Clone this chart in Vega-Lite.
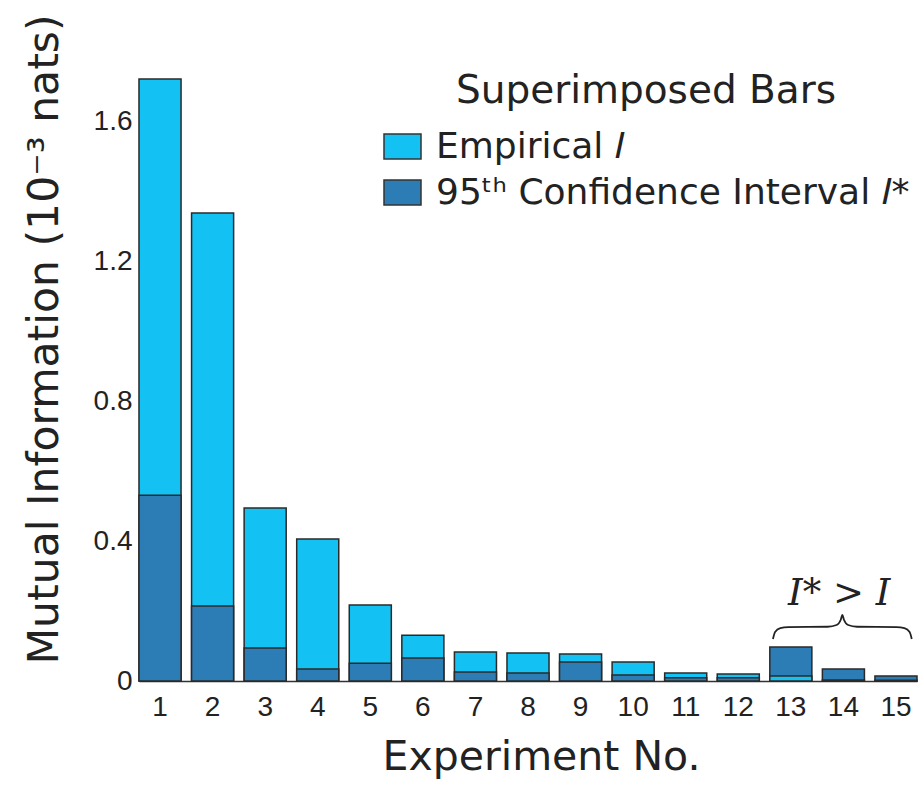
{
  "$schema": "https://vega.github.io/schema/vega-lite/v6.json",
  "autosize": {"type": "none"},
  "padding": {"left": 139, "top": 79, "right": 6, "bottom": 104},
  "width": 778,
  "height": 602,
  "background": "white",
  "config": {"view": {"stroke": null}},
  "resolve": {"scale": {"x": "independent"}, "axis": {"x": "independent"}},
  "layer": [
    {
      "data": {"values": [
        {"exp": 1, "series": "Empirical 𝐼", "value": 1.72},
        {"exp": 1, "series": "95ᵗʰ Confidence Interval 𝐼*", "value": 0.531},
        {"exp": 2, "series": "Empirical 𝐼", "value": 1.337},
        {"exp": 2, "series": "95ᵗʰ Confidence Interval 𝐼*", "value": 0.214},
        {"exp": 3, "series": "Empirical 𝐼", "value": 0.494},
        {"exp": 3, "series": "95ᵗʰ Confidence Interval 𝐼*", "value": 0.094},
        {"exp": 4, "series": "Empirical 𝐼", "value": 0.406},
        {"exp": 4, "series": "95ᵗʰ Confidence Interval 𝐼*", "value": 0.034},
        {"exp": 5, "series": "Empirical 𝐼", "value": 0.217},
        {"exp": 5, "series": "95ᵗʰ Confidence Interval 𝐼*", "value": 0.051},
        {"exp": 6, "series": "Empirical 𝐼", "value": 0.131},
        {"exp": 6, "series": "95ᵗʰ Confidence Interval 𝐼*", "value": 0.066},
        {"exp": 7, "series": "Empirical 𝐼", "value": 0.083},
        {"exp": 7, "series": "95ᵗʰ Confidence Interval 𝐼*", "value": 0.026},
        {"exp": 8, "series": "Empirical 𝐼", "value": 0.080},
        {"exp": 8, "series": "95ᵗʰ Confidence Interval 𝐼*", "value": 0.023},
        {"exp": 9, "series": "Empirical 𝐼", "value": 0.077},
        {"exp": 9, "series": "95ᵗʰ Confidence Interval 𝐼*", "value": 0.054},
        {"exp": 10, "series": "Empirical 𝐼", "value": 0.054},
        {"exp": 10, "series": "95ᵗʰ Confidence Interval 𝐼*", "value": 0.017},
        {"exp": 11, "series": "Empirical 𝐼", "value": 0.023},
        {"exp": 11, "series": "95ᵗʰ Confidence Interval 𝐼*", "value": 0.009},
        {"exp": 12, "series": "Empirical 𝐼", "value": 0.020},
        {"exp": 12, "series": "95ᵗʰ Confidence Interval 𝐼*", "value": 0.009},
        {"exp": 13, "series": "95ᵗʰ Confidence Interval 𝐼*", "value": 0.097},
        {"exp": 13, "series": "Empirical 𝐼", "value": 0.014},
        {"exp": 14, "series": "95ᵗʰ Confidence Interval 𝐼*", "value": 0.034},
        {"exp": 14, "series": "Empirical 𝐼", "value": 0.003},
        {"exp": 15, "series": "95ᵗʰ Confidence Interval 𝐼*", "value": 0.014},
        {"exp": 15, "series": "Empirical 𝐼", "value": 0.002}
      ]},
      "mark": {"type": "bar", "stroke": "#2a2a2a", "strokeWidth": 1.5},
      "encoding": {
        "x": {
          "field": "exp", "type": "ordinal",
          "scale": {"paddingInner": 0.2, "paddingOuter": 0},
          "axis": {
            "title": "Experiment No.", "labelAngle": 0, "ticks": false,
            "domainColor": "#333333", "domainWidth": 1.5,
            "labelFont": "Liberation Sans", "labelFontSize": 28, "labelColor": "#222222", "labelPadding": 12,
            "titleFont": "DejaVu Sans", "titleFontSize": 41, "titleFontWeight": "normal", "titleColor": "#222222",
            "titleX": 402, "titleY": 76, "titleBaseline": "middle", "titleAlign": "center"
          }
        },
        "y": {
          "field": "value", "type": "quantitative", "stack": null,
          "scale": {"domain": [0, 1.72], "nice": false},
          "axis": {
            "title": "Mutual Information (10⁻³ nats)", "values": [0, 0.4, 0.8, 1.2, 1.6],
            "labelExpr": "datum.value == 0 ? '0' : format(datum.value, '.1f')",
            "ticks": false, "grid": false, "domainColor": "#999999", "domainWidth": 1.5,
            "labelFont": "Liberation Sans", "labelFontSize": 28, "labelColor": "#222222", "labelPadding": 7,
            "titleFont": "DejaVu Sans", "titleFontSize": 42.5, "titleFontWeight": "normal", "titleColor": "#222222",
            "titleX": -95, "titleY": 260, "titleBaseline": "middle", "titleAlign": "center", "titleAngle": -90
          }
        },
        "color": {
          "field": "series", "type": "nominal",
          "scale": {"domain": ["Empirical 𝐼", "95ᵗʰ Confidence Interval 𝐼*"], "range": ["#14C1F3", "#2C7DB6"]},
          "legend": {
            "title": "Superimposed Bars", "orient": "none", "legendX": 244, "legendY": -7,
            "titleFont": "DejaVu Sans", "titleFontSize": 39, "titleFontWeight": "normal", "titleColor": "#222222",
            "titleAnchor": "middle", "titlePadding": 16, "titleLimit": 800,
            "labelFont": "DejaVu Sans", "labelFontSize": 36, "labelColor": "#222222", "labelOffset": 14, "labelLimit": 800,
            "symbolType": "M-1,-0.68H1V0.68H-1Z", "symbolSize": 1369, "symbolStrokeColor": "#333333", "symbolStrokeWidth": 1.5,
            "symbolOpacity": 1, "rowPadding": 8
          }
        }
      }
    },
    {
      "data": {"values": [
        {"bx": 12.06, "by": 0.120},
        {"bx": 12.10, "by": 0.140},
        {"bx": 12.20, "by": 0.151},
        {"bx": 12.35, "by": 0.154},
        {"bx": 13.10, "by": 0.155},
        {"bx": 13.27, "by": 0.160},
        {"bx": 13.35, "by": 0.175},
        {"bx": 13.38, "by": 0.189},
        {"bx": 13.41, "by": 0.175},
        {"bx": 13.49, "by": 0.160},
        {"bx": 13.66, "by": 0.155},
        {"bx": 14.41, "by": 0.154},
        {"bx": 14.56, "by": 0.151},
        {"bx": 14.66, "by": 0.140},
        {"bx": 14.70, "by": 0.120}
      ]},
      "mark": {"type": "line", "color": "#222222", "strokeWidth": 1.8, "interpolate": "monotone"},
      "encoding": {
        "x": {"field": "bx", "type": "quantitative", "scale": {"domain": [0, 14.8], "nice": false, "zero": false}, "axis": null},
        "y": {"field": "by", "type": "quantitative", "scale": {"domain": [0, 1.72], "nice": false}}
      }
      },
    {
      "data": {"values": [{"tx": 13.32, "ty": 0.25, "label": "I* > I"}]},
      "mark": {"type": "text", "font": "DejaVu Serif", "fontStyle": "italic", "fontSize": 37, "color": "#222222", "baseline": "middle", "align": "center"},
      "encoding": {
        "x": {"field": "tx", "type": "quantitative", "scale": {"domain": [0, 14.8], "nice": false, "zero": false}, "axis": null},
        "y": {"field": "ty", "type": "quantitative", "scale": {"domain": [0, 1.72], "nice": false}},
        "text": {"field": "label"}
      }
    }
  ]
}
